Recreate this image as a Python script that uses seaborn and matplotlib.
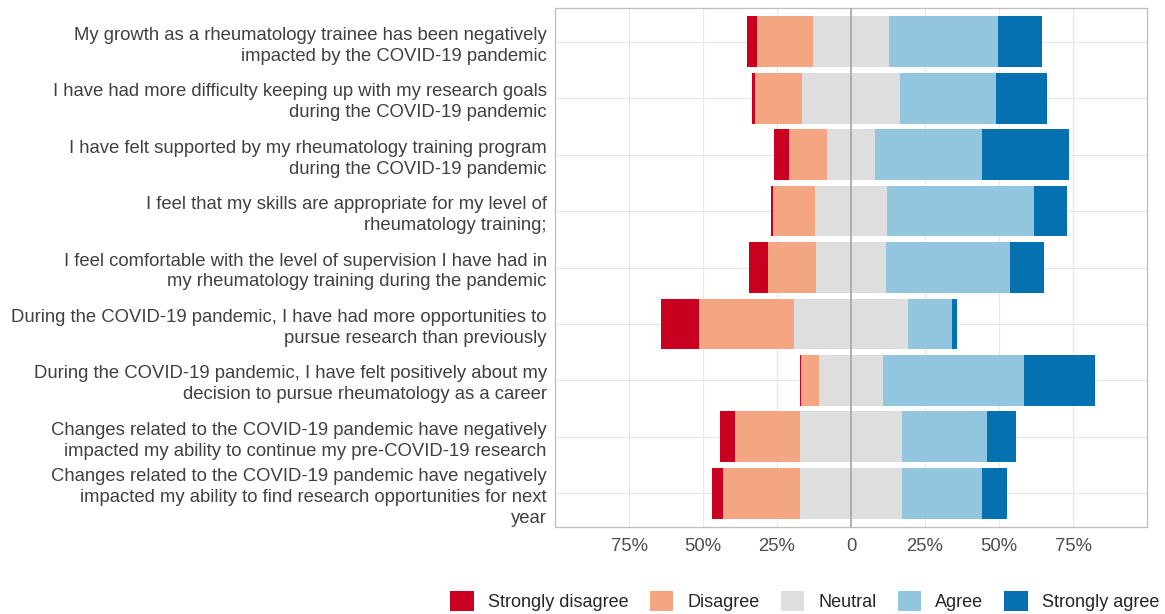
import numpy as np
import pandas as pd
import matplotlib
matplotlib.use("Agg")
import matplotlib.pyplot as plt
import seaborn as sns
from matplotlib.patches import Patch

statements = [
    "My growth as a rheumatology trainee has been negatively\nimpacted by the COVID-19 pandemic",
    "I have had more difficulty keeping up with my research goals\nduring the COVID-19 pandemic",
    "I have felt supported by my rheumatology training program\nduring the COVID-19 pandemic",
    "I feel that my skills are appropriate for my level of\nrheumatology training;",
    "I feel comfortable with the level of supervision I have had in\nmy rheumatology training during the pandemic",
    "During the COVID-19 pandemic, I have had more opportunities to\npursue research than previously",
    "During the COVID-19 pandemic, I have felt positively about my\ndecision to pursue rheumatology as a career",
    "Changes related to the COVID-19 pandemic have negatively\nimpacted my ability to continue my pre-COVID-19 research",
    "Changes related to the COVID-19 pandemic have negatively\nimpacted my ability to find research opportunities for next\nyear",
]
strongly_disagree = [3.5, 1.0, 5.2, 0.8, 6.5, 12.8, 0.4, 4.8, 3.8]
disagree = [18.9, 15.8, 13.0, 14.1, 16.3, 32.0, 5.9, 22.1, 26.0]
neutral = [25.8, 33.3, 15.9, 24.2, 23.4, 38.8, 21.8, 34.4, 34.6]
agree = [36.6, 32.4, 36.2, 49.7, 41.9, 14.6, 47.4, 28.8, 27.1]
strongly_agree = [15.1, 17.3, 29.4, 11.2, 11.7, 1.7, 24.2, 9.8, 8.3]

levels = ["Strongly disagree", "Disagree", "Neutral", "Agree", "Strongly agree"]
colors = ["#CA0020", "#F4A582", "#DEDEDE", "#92C5DE", "#0571B0"]
x_ticks = [-75, -50, -25, 0, 25, 50, 75]
x_tick_labels = ["75%", "50%", "25%", "0", "25%", "50%", "75%"]

df = pd.DataFrame({
    "statement": statements,
    "sd": strongly_disagree, "d": disagree, "n": neutral,
    "a": agree, "sa": strongly_agree,
})
df["neg_sd"] = -(df["sd"] + df["d"] + df["n"] / 2)
df["neg_d"] = -(df["d"] + df["n"] / 2)
df["neg_n"] = -(df["n"] / 2)
df["pos_sa"] = df["n"] / 2 + df["a"] + df["sa"]
df["pos_a"] = df["n"] / 2 + df["a"]
df["pos_n"] = df["n"] / 2

sns.set_theme(style="white")
plt.rcParams["font.family"] = ["Liberation Sans", "DejaVu Sans"]

fig = plt.figure(figsize=(11.65, 6.14), dpi=100)
ax = fig.add_axes([555 / 1165, 1 - 527 / 614, (1147 - 555) / 1165, (527 - 8) / 614])

layers = [("neg_sd", colors[0]), ("neg_d", colors[1]), ("neg_n", colors[2]),
          ("pos_sa", colors[4]), ("pos_a", colors[3]), ("pos_n", colors[2])]
for col, c in layers:
    sns.barplot(data=df, x=col, y="statement", color=c, saturation=1,
                width=0.9, errorbar=None, orient="h", linewidth=0, ax=ax, zorder=2)

ax.set_xlim(-100, 100)
ax.set_ylim(len(statements) - 0.4, -0.6)
ax.set_xlabel("")
ax.set_ylabel("")
ax.set_xticks(x_ticks)
ax.set_xticklabels(x_tick_labels)
ax.set_axisbelow(True)
ax.grid(True, color="#E8E8E8", linewidth=0.9, zorder=0)
ax.axvline(0, color="#A6A6A6", linewidth=1.2, zorder=3)
for s in ax.spines.values():
    s.set_visible(True)
    s.set_color("#BDBDBD")
    s.set_linewidth(0.9)
ax.tick_params(axis="both", which="major", colors="#BDBDBD", labelcolor="#4D4D4D",
               length=3, width=0.8, labelsize=13.3)
ax.tick_params(axis="y", pad=3)
ax.tick_params(axis="x", pad=5)
for t in ax.get_yticklabels():
    t.set_linespacing(1.3)
    t.set_color("#404040")

handles = [Patch(facecolor=c, edgecolor="none", label=l) for l, c in zip(levels, colors)]
fig.legend(handles=handles, loc="center", bbox_to_anchor=(805 / 1165, 1 - 601 / 614),
           ncol=5, frameon=False, fontsize=13, handlelength=1.3, handleheight=1.3,
           handletextpad=0.8, columnspacing=1.15, borderaxespad=0, borderpad=0)

fig.savefig("out.png", dpi=100)
